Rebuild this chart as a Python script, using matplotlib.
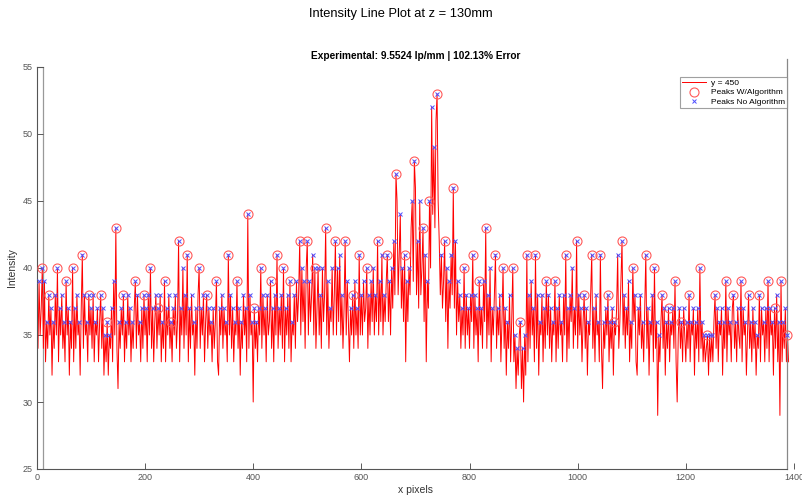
import numpy as np
import matplotlib
matplotlib.use('Agg')
import matplotlib.pyplot as plt

plt.rcParams['font.family'] = ['Liberation Sans Narrow', 'Liberation Sans', 'DejaVu Sans']

# intensity along row y = 450, sampled every 2 px starting at x = 0
intensity = [
    36, 34, 39, 35, 37, 40, 34, 39, 33, 36, 34, 38, 35, 37, 32, 36, 34, 38, 35, 40, 33, 37, 35, 38, 34,
    36, 33, 39, 35, 37, 32, 36, 34, 40, 33, 37, 34, 38, 35, 36, 32, 37, 41, 34, 38, 35, 36, 33, 38, 35,
    37, 34, 38, 33, 36, 35, 37, 33, 36, 38, 34, 37, 32, 35, 33, 36, 32, 35, 34, 37, 33, 39, 35, 43, 34,
    31, 36, 34, 37, 35, 38, 33, 36, 34, 38, 35, 37, 33, 36, 34, 37, 39, 34, 38, 35, 36, 33, 37, 34, 38,
    35, 37, 33, 38, 35, 40, 34, 37, 33, 36, 38, 34, 37, 35, 38, 33, 36, 34, 39, 33, 37, 35, 38, 34, 36,
    33, 37, 35, 38, 34, 36, 42, 33, 37, 35, 40, 34, 38, 35, 41, 33, 37, 34, 38, 35, 36, 32, 37, 34, 38,
    40, 34, 37, 35, 38, 33, 36, 38, 34, 37, 35, 36, 33, 37, 34, 36, 39, 33, 32, 37, 35, 38, 34, 37, 35,
    36, 33, 41, 35, 38, 34, 37, 33, 36, 35, 39, 34, 37, 32, 36, 34, 38, 35, 37, 33, 44, 34, 38, 35, 36,
    30, 37, 34, 36, 33, 37, 35, 40, 34, 38, 35, 37, 33, 38, 35, 36, 39, 34, 37, 33, 38, 35, 41, 34, 37,
    35, 38, 34, 40, 33, 37, 35, 38, 34, 39, 33, 36, 35, 38, 34, 39, 36, 38, 42, 35, 40, 36, 39, 34, 40,
    42, 35, 39, 36, 38, 41, 35, 40, 34, 37, 40, 35, 38, 34, 40, 36, 38, 43, 35, 39, 34, 37, 36, 40, 35,
    38, 42, 35, 40, 36, 41, 35, 38, 34, 37, 42, 35, 39, 36, 33, 37, 35, 38, 34, 39, 35, 37, 34, 41, 35,
    38, 35, 39, 36, 37, 40, 34, 38, 35, 39, 36, 40, 35, 38, 36, 42, 35, 39, 36, 41, 35, 38, 36, 39, 41,
    36, 39, 35, 40, 37, 42, 38, 47, 45, 38, 41, 44, 37, 40, 36, 41, 33, 39, 36, 40, 38, 43, 45, 39, 48,
    46, 38, 42, 37, 45, 38, 40, 43, 36, 41, 33, 39, 37, 45, 40, 52, 44, 49, 43, 51, 53, 45, 42, 38, 41,
    37, 39, 42, 36, 40, 34, 39, 37, 41, 38, 46, 37, 42, 35, 39, 36, 38, 34, 37, 35, 40, 34, 38, 35, 37,
    34, 38, 36, 41, 34, 38, 35, 37, 33, 39, 35, 37, 34, 39, 36, 43, 34, 38, 35, 40, 33, 37, 35, 38, 41,
    34, 37, 35, 38, 33, 36, 40, 34, 37, 32, 36, 34, 38, 33, 36, 40, 33, 35, 31, 34, 32, 35, 36, 31, 34,
    30, 35, 32, 41, 33, 38, 34, 39, 35, 37, 33, 41, 34, 38, 32, 36, 35, 38, 33, 37, 34, 39, 35, 38, 34,
    37, 33, 36, 35, 39, 33, 37, 34, 38, 35, 36, 33, 38, 35, 41, 33, 37, 34, 38, 36, 40, 34, 37, 35, 42,
    34, 38, 35, 37, 33, 36, 38, 34, 37, 32, 36, 35, 38, 41, 34, 37, 33, 38, 35, 36, 33, 41, 34, 31, 36,
    34, 37, 35, 38, 33, 36, 34, 37, 32, 36, 35, 37, 41, 34, 36, 39, 42, 35, 38, 34, 37, 35, 39, 33, 36,
    34, 40, 36, 38, 33, 32, 37, 35, 38, 34, 36, 33, 37, 41, 34, 37, 32, 36, 35, 38, 33, 40, 34, 36, 29,
    35, 33, 36, 38, 34, 37, 32, 36, 34, 37, 33, 36, 35, 37, 34, 39, 33, 30, 35, 37, 34, 36, 33, 37, 35,
    33, 36, 34, 38, 33, 36, 35, 37, 32, 36, 34, 37, 33, 40, 34, 36, 33, 35, 33, 34, 35, 32, 35, 33, 35,
    33, 36, 38, 34, 37, 33, 36, 35, 37, 32, 36, 34, 39, 33, 37, 35, 36, 33, 37, 38, 34, 36, 33, 37, 35,
    34, 39, 33, 37, 35, 36, 32, 35, 38, 34, 36, 33, 37, 34, 36, 32, 35, 34, 38, 33, 37, 35, 36, 33, 37,
    34, 39, 33, 37, 35, 36, 32, 37, 34, 38, 33, 36, 29, 39, 33, 36, 34, 37, 33, 35, 33,
]
x_step = 2
min_peak_dist = 12  # px between peaks kept by the algorithm

xticks = [0, 200, 400, 600, 800, 1000, 1200, 1400]
yticks = [25, 30, 35, 40, 45, 50, 55]

y = np.array(intensity, dtype=float)
x = np.arange(len(y)) * x_step

# every local maximum
raw = [i for i in range(1, len(y) - 1) if y[i] > y[i - 1] and y[i] >= y[i + 1]]
if y[-1] > y[-2]:
    raw.append(len(y) - 1)
raw = np.array(raw)

# keep tallest peaks first, dropping any too close to one already kept
kept = []
for i in raw[np.argsort(-y[raw], kind='stable')]:
    if all(abs(x[i] - x[k]) >= min_peak_dist for k in kept):
        kept.append(i)
kept = np.sort(np.array(kept))

fig = plt.figure(figsize=(8.02, 5.0), dpi=100)
ax = fig.add_axes([0.046, 0.062, 0.944, 0.804])

ax.plot(x, y, color='red', lw=0.7, label='y = 450', zorder=2)
ax.plot(x[kept], y[kept], 'o', mfc='none', mec=(1, 0.35, 0.35), mew=0.8, ms=6.5,
        label='Peaks W/Algorithm', zorder=3)
ax.plot(x[raw], y[raw], 'x', color=(0.3, 0.3, 1.0), mew=0.7, ms=3.5,
        label='Peaks No Algorithm', zorder=4)

ax.set_xlim(0, 1400)
ax.set_ylim(25, 55)
ax.set_xticks(xticks)
ax.set_yticks(yticks)
ax.tick_params(direction='in', length=4, width=0.6, colors='#404040', labelsize=6.5,
               labelcolor='#555555', pad=3)

for s in ('top', 'right'):
    ax.spines[s].set_visible(False)
for s in ('left', 'bottom'):
    ax.spines[s].set_color('#555555')
    ax.spines[s].set_linewidth(0.8)
ax.spines['bottom'].set_bounds(0, 1387)
ax.axvline(11, color='#999999', lw=0.9, zorder=1)
ax.plot([0, 11], [55, 55], color='#555555', lw=0.8, clip_on=False)
ax.plot([1387, 1387], [25, 55.6], color='#888888', lw=0.9, clip_on=False)

ax.set_xlabel('x pixels', fontsize=7.5, color='#333333', labelpad=2)
ax.set_ylabel('Intensity', fontsize=7.5, color='#333333', labelpad=4)
ax.set_title('Experimental: 9.5524 lp/mm | 102.13% Error', fontsize=7.3,
             fontweight='bold', pad=6)
fig.suptitle('Intensity Line Plot at z = 130mm', fontsize=9.3, y=0.983)

leg = ax.legend(loc='upper right', bbox_to_anchor=(0.991, 0.975), fontsize=6,
                frameon=True, fancybox=False, borderpad=0.3, labelspacing=0.15,
                handlelength=2.8, handletextpad=0.6, borderaxespad=0)
leg.get_frame().set_edgecolor('#888888')
leg.get_frame().set_linewidth(0.8)

fig.savefig('out.png', dpi=100)
